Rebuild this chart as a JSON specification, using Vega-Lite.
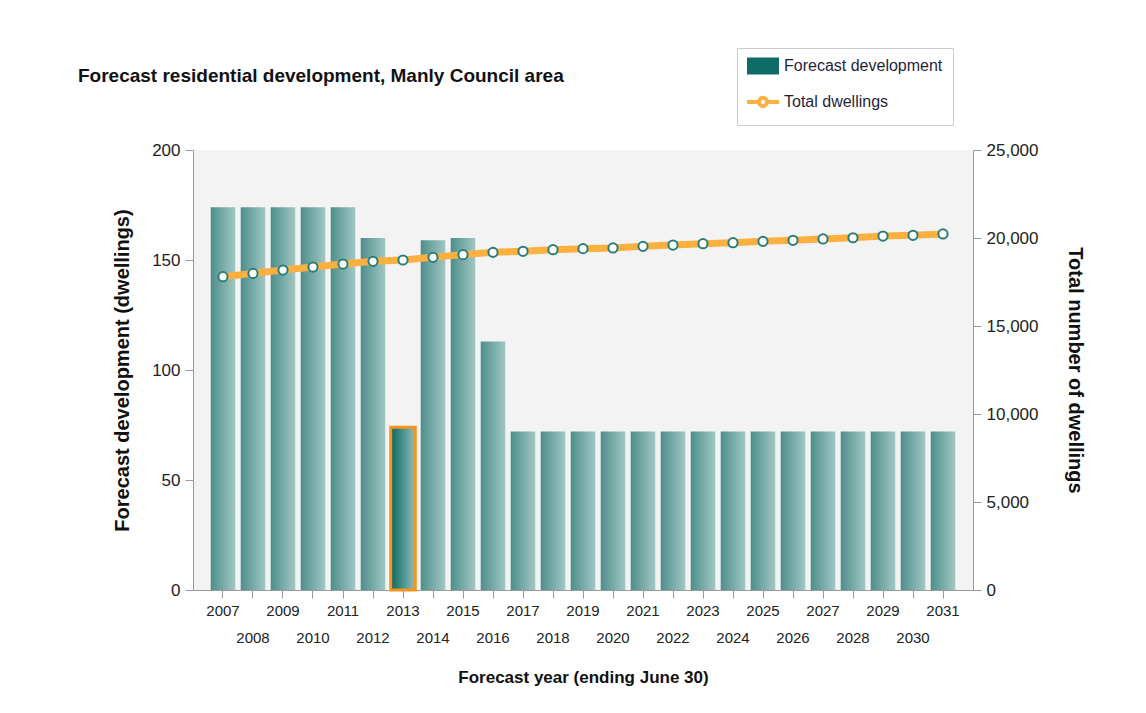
{
  "$schema": "https://vega.github.io/schema/vega-lite/v6.json",
  "width": 780,
  "height": 440,
  "autosize": "none",
  "padding": {"left": 193, "top": 150, "right": 173, "bottom": 123},
  "background": "#ffffff",
  "title": {
    "text": "Forecast residential development, Manly Council area",
    "anchor": "start",
    "frame": "group",
    "dx": -115,
    "offset": -38,
    "fontSize": 19,
    "fontWeight": "bold",
    "color": "#111111"
  },
  "data": {
    "values": [
      {"year": 2007, "dev": 174, "total": 17800},
      {"year": 2008, "dev": 174, "total": 17990},
      {"year": 2009, "dev": 174, "total": 18180},
      {"year": 2010, "dev": 174, "total": 18350},
      {"year": 2011, "dev": 174, "total": 18520},
      {"year": 2012, "dev": 160, "total": 18675},
      {"year": 2013, "dev": 74, "total": 18750},
      {"year": 2014, "dev": 159, "total": 18900},
      {"year": 2015, "dev": 160, "total": 19055},
      {"year": 2016, "dev": 113, "total": 19185},
      {"year": 2017, "dev": 72, "total": 19245},
      {"year": 2018, "dev": 72, "total": 19335},
      {"year": 2019, "dev": 72, "total": 19395},
      {"year": 2020, "dev": 72, "total": 19435},
      {"year": 2021, "dev": 72, "total": 19525},
      {"year": 2022, "dev": 72, "total": 19600},
      {"year": 2023, "dev": 72, "total": 19675},
      {"year": 2024, "dev": 72, "total": 19735},
      {"year": 2025, "dev": 72, "total": 19810},
      {"year": 2026, "dev": 72, "total": 19870},
      {"year": 2027, "dev": 72, "total": 19945},
      {"year": 2028, "dev": 72, "total": 20015},
      {"year": 2029, "dev": 72, "total": 20110},
      {"year": 2030, "dev": 72, "total": 20155},
      {"year": 2031, "dev": 72, "total": 20230}
    ]
  },
  "encoding": {
    "x": {
      "field": "year",
      "type": "ordinal",
      "scale": {"paddingInner": 0.18, "paddingOuter": 0.59},
      "axis": {
        "title": "Forecast year (ending June 30)",
        "labelAngle": 0,
        "labelOverlap": false,
        "labelFontSize": 15,
        "labelPadding": {"condition": {"test": "datum.value % 2 == 0", "value": 32}, "value": 5},
        "titlePadding": 24,
        "titleFontSize": 17
      }
    }
  },
  "layer": [
    {
      "mark": {"type": "bar"},
      "encoding": {
        "y": {
          "field": "dev",
          "type": "quantitative",
          "scale": {"domain": [0, 200]},
          "axis": {
            "title": "Forecast development (dwellings)",
            "values": [0, 50, 100, 150, 200],
            "orient": "left",
            "labelFontSize": 17,
            "titleFontSize": 20,
            "titlePadding": 19
          }
        },
        "fill": {
          "condition": {
            "test": "datum.year == 2013",
            "value": {"gradient": "linear", "x1": 0, "y1": 0, "x2": 1, "y2": 0, "stops": [{"offset": 0, "color": "#0a6661"}, {"offset": 1, "color": "#8fbdb9"}]}
          },
          "value": {"gradient": "linear", "x1": 0, "y1": 0, "x2": 1, "y2": 0, "stops": [{"offset": 0, "color": "#4d8e8a"}, {"offset": 1, "color": "#a2c7c4"}]}
        },
        "stroke": {"condition": {"test": "datum.year == 2013", "value": "#f7941d"}, "value": null},
        "strokeWidth": {"condition": {"test": "datum.year == 2013", "value": 3}, "value": 0}
      }
    },
    {
      "encoding": {
        "y": {
          "field": "total",
          "type": "quantitative",
          "scale": {"domain": [0, 25000]},
          "axis": {
            "title": "Total number of dwellings",
            "orient": "right",
            "values": [0, 5000, 10000, 15000, 20000, 25000],
            "labelExpr": "format(datum.value, ',')",
            "labelFontSize": 17,
            "titleFontSize": 20,
            "titlePadding": 27
          }
        }
      },
      "layer": [
        {
          "mark": {"type": "line", "strokeWidth": 7},
          "encoding": {
            "color": {
              "datum": "Total dwellings",
              "scale": {"domain": ["Forecast development", "Total dwellings"], "range": ["#0e6b66", "#fbb040"]},
              "legend": {
                "title": null,
                "orient": "none",
                "legendX": 544,
                "legendY": -102,
                "direction": "vertical",
                "fillColor": "#ffffff",
                "strokeColor": "#cccccc",
                "padding": 10,
                "labelFontSize": 16,
                "labelColor": "#1f1f3d",
                "labelOffset": 21,
                "rowPadding": 14,
                "symbolSize": 1024,
                "encode": {
                  "symbols": {
                    "update": {
                      "shape": {"signal": "datum.value == 'Total dwellings' ? 'M-0.5,0H0.2M0.8,0H1.5M0.76,0A0.26,0.26 0 1 1 0.24,0A0.26,0.26 0 1 1 0.76,0' : 'M-0.5,-0.53H1.5V0.53H-0.5Z'"},
                      "fill": {"signal": "datum.value == 'Total dwellings' ? '#ffffff' : '#0e6b66'"},
                      "stroke": {"signal": "datum.value == 'Total dwellings' ? '#fbb040' : '#0e6b66'"},
                      "strokeWidth": {"signal": "datum.value == 'Total dwellings' ? 4 : 0"},
                      "size": {"value": 1024},
                      "opacity": {"value": 1}
                    }
                  }
                }
              }
            }
          }
        },
        {
          "mark": {"type": "point", "shape": "circle", "filled": true, "fill": "#ffffff", "stroke": "#2a7e79", "strokeWidth": 2, "size": 85, "opacity": 1}
        }
      ]
    }
  ],
  "resolve": {"scale": {"y": "independent"}},
  "config": {
    "font": "Liberation Sans",
    "view": {"fill": "#f3f3f3", "stroke": null},
    "axis": {
      "grid": false,
      "domainColor": "#9a9a9a",
      "tickColor": "#9a9a9a",
      "tickSize": 8,
      "labelColor": "#222222",
      "titleColor": "#111111",
      "titleFontWeight": "bold",
      "labelPadding": 5
    }
  }
}
